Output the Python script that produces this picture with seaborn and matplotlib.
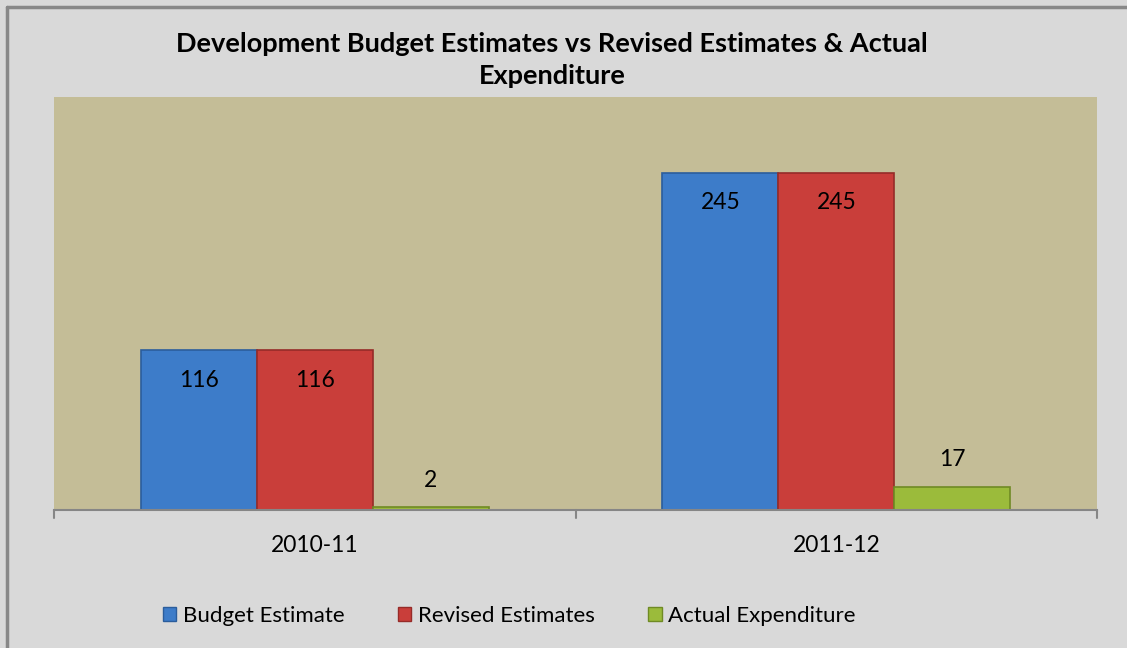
import matplotlib
matplotlib.use("Agg")
import matplotlib.pyplot as plt
import seaborn as sns
import pandas as pd
from matplotlib.lines import Line2D
from matplotlib.patches import Rectangle

years = ["2010-11", "2011-12"]
series = ["Budget Estimate", "Revised Estimates", "Actual Expenditure"]
budget_estimate = [116, 245]
revised_estimates = [116, 245]
actual_expenditure = [2, 17]
title = "Development Budget Estimates vs Revised Estimates & Actual\nExpenditure"

colors = ["#3d7cc9", "#c93e3a", "#9bbb3b"]
edge_colors = ["#2b5d9c", "#962b28", "#6f8a24"]

df = pd.DataFrame({
    "year": years * 3,
    "series": [series[0]] * 2 + [series[1]] * 2 + [series[2]] * 2,
    "value": budget_estimate + revised_estimates + actual_expenditure,
})

sns.set_theme(style="white")
plt.rcParams["font.family"] = ["Lato", "DejaVu Sans"]
plt.rcParams["text.color"] = "black"

fig = plt.figure(figsize=(11.27, 6.48), dpi=100, facecolor="#d9d9d9")
ax = fig.add_axes([54 / 1127, 1 - 510 / 648, (1097 - 54) / 1127, (510 - 97) / 648])
ax.set_facecolor("#c4bd97")

sns.barplot(data=df, x="year", y="value", hue="series", hue_order=series,
            palette=colors, width=0.667, gap=0, ax=ax, legend=False,
            saturation=1, errorbar=None)

for cont, ec in zip(ax.containers, edge_colors):
    for bar in cont:
        bar.set_edgecolor(ec)
        bar.set_linewidth(1.2)
    vals = [b.get_height() for b in cont]
    big = [f"{v:g}" if v > 50 else "" for v in vals]
    small = [f"{v:g}" if v <= 50 else "" for v in vals]
    ax.bar_label(cont, labels=big, padding=-29, fontsize=16.5, color="black")
    ax.bar_label(cont, labels=small, padding=12, fontsize=16.5, color="black")

ax.set_ylim(0, 300)
ax.set_xlim(-0.5, 1.5)
ax.set_yticks([])
ax.set_xlabel("")
ax.set_ylabel("")
for s in ["top", "right", "left"]:
    ax.spines[s].set_visible(False)
ax.spines["bottom"].set_color("#868686")
ax.spines["bottom"].set_linewidth(1.5)
ax.tick_params(axis="x", length=0, labelsize=16.5, pad=18, colors="black")
for xt in [-0.5, 0.5, 1.5]:
    ax.plot([xt, xt], [0, -0.02], transform=ax.get_xaxis_transform(),
            color="#868686", lw=1.5, clip_on=False)

fig.text(0.49, 0.908, title, ha="center", va="center", fontsize=19.5,
         fontweight="bold", linespacing=1.4, color="black")

handles = [Rectangle((0, 0), 1, 1, facecolor=c, edgecolor=e, lw=1)
           for c, e in zip(colors, edge_colors)]
fig.legend(handles, series, loc="center", bbox_to_anchor=(0.452, 0.049),
           ncol=3, frameon=False, fontsize=16, handlelength=0.6,
           handleheight=0.6, handletextpad=0.3, columnspacing=2.4)

fig.add_artist(Line2D([7 / 1127, 7 / 1127], [0, 1 - 7 / 648], color="#888888", lw=2.5))
fig.add_artist(Line2D([7 / 1127, 1], [1 - 7 / 648, 1 - 7 / 648], color="#888888", lw=2.5))

fig.savefig("out.png", dpi=100, facecolor=fig.get_facecolor())
